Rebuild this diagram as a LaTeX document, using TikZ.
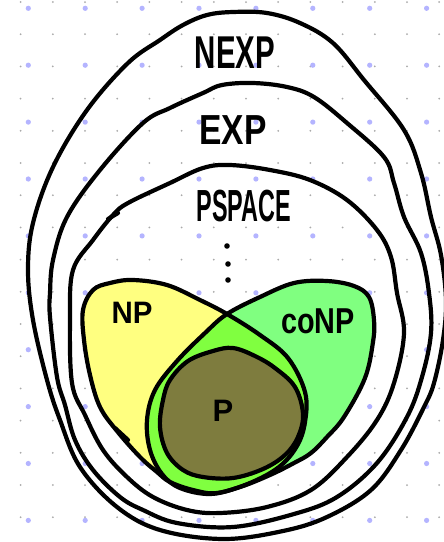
\documentclass[tikz,border=0pt]{standalone}
\usepackage{fontspec}
\newfontfamily\handfont{Liberation Sans}
\newcommand\handlbl[3]{\fontsize{#1}{#1}\selectfont\scalebox{#2}[1]{#3}}
\definecolor{npyellow}{RGB}{255,255,128}
\definecolor{conpgreen}{RGB}{128,255,128}
\definecolor{lensgreen}{RGB}{128,255,64}
\definecolor{polive}{RGB}{126,124,62}
\definecolor{bigdot}{RGB}{180,180,255}
\definecolor{smalldot}{RGB}{170,170,170}
\tikzset{
  ink/.style={line width=4.2, line cap=round, line join=round, black},
  lbl/.style={inner sep=0pt, font=\handfont\bfseries},
  blob/.style={smooth cycle, tension=0.6},
}
\begin{document}
\begin{tikzpicture}[x=1pt,y=-1pt]
\useasboundingbox (0,0) rectangle (444,542);
\fill[white] (0,0) rectangle (444,542);
% dot grid
\foreach \i in {0,...,13} \foreach \j in {0,...,16}
  \fill[smalldot] (20.6+32.2*\i, 2.0+32.2*\j) circle[radius=1];
\foreach \i in {0,...,7} \foreach \j in {0,...,9}
  \fill[bigdot] (28.3+56.9*\i, 8.3+56.9*\j) circle[radius=2.6];
% paths
\def\NPpath{plot[blob] coordinates {(93,290) (110,283) (133,280) (167,285) (200,300) (227,314) (260,335) (288,358) (305,392) (305,422) (297,446) (279,467) (250,483) (217,493) (193,490) (170,482) (157,472) (140,457) (117,431) (100,407) (90,375) (84,340) (83,310)}}
\def\coNPpath{plot[blob] coordinates {(227,314) (260,297) (294,283) (327,281) (354,286) (369,297) (374,320) (373,342) (365,378) (344,417) (327,437) (311,453) (294,463) (270,475) (240,487) (210,494) (180,488) (162,474) (150,450) (147,420) (155,390) (177,361) (205,333)}}
\def\Ppath{plot[blob] coordinates {(213,351) (233,348) (255,356) (275,368) (295,387) (303,414) (298,437) (285,455) (263,469) (233,478) (203,477) (183,470) (167,453) (160,427) (163,400) (170,380) (188,361)}}
\fill[npyellow] \NPpath;
\fill[conpgreen] \coNPpath;
\begin{scope}
  \clip \NPpath;
  \fill[lensgreen] \coNPpath;
\end{scope}
\fill[polive] \Ppath;
\draw[ink] \NPpath;
\draw[ink] \coNPpath;
\draw[ink] \Ppath;
% PSPACE
\draw[ink] plot[blob] coordinates {(170,183) (203,168) (230,165) (270,170) (310,180) (347,200) (377,230) (391,257) (397,293) (404,333) (394,383) (377,420) (347,457) (311,490) (267,507) (220,513) (187,510) (153,497) (127,477) (103,450) (85,415) (72,383) (70,317) (73,270) (93,240) (113,215) (128,203)};
% EXP
\draw[ink] plot[blob] coordinates {(203,93) (222,85) (253,83) (287,87) (314,97) (347,123) (384,157) (394,183) (404,217) (421,253) (429,293) (431,333) (422,377) (407,417) (377,463) (337,497) (294,514) (233,527) (177,523) (143,510) (120,497) (93,470) (75,440) (65,405) (57,377) (50,317) (50,293) (53,260) (67,217) (100,170) (143,123) (170,108)};
% NEXP
\draw[ink] plot[blob] coordinates {(207,15) (233,12) (267,13) (300,23) (333,43) (364,80) (404,130) (421,173) (431,217) (441,255) (446,300) (443,340) (434,383) (424,407) (401,450) (371,490) (327,517) (283,531) (223,539) (160,530) (117,507) (80,467) (60,420) (47,380) (33,320) (28,270) (33,223) (53,167) (87,110) (128,63) (160,40) (183,25)};
% small strokes
\draw[ink] (115,428) -- (128,440);
\draw[ink] (108,219) -- (118,213);
% ellipsis
\fill (227,246) circle[radius=2.8];
\fill (228,264) circle[radius=2.8];
\fill (228,280) circle[radius=2.8];
% labels
\node[lbl] (nexp) at (235,53) {\handlbl{46}{0.64}{NEXP}};
\node[lbl] (exp) at (233,130) {\handlbl{42}{0.8}{EXP}};
\node[lbl] (pspace) at (244,206) {\handlbl{45}{0.52}{PSPACE}};
\node[lbl] (np) at (132,313) {\handlbl{31}{0.95}{NP}};
\node[lbl] (conp) at (318,321) {\handlbl{36}{0.8}{coNP}};
\node[lbl] (p) at (223,411) {\handlbl{31}{1}{P}};
\end{tikzpicture}
\end{document}
